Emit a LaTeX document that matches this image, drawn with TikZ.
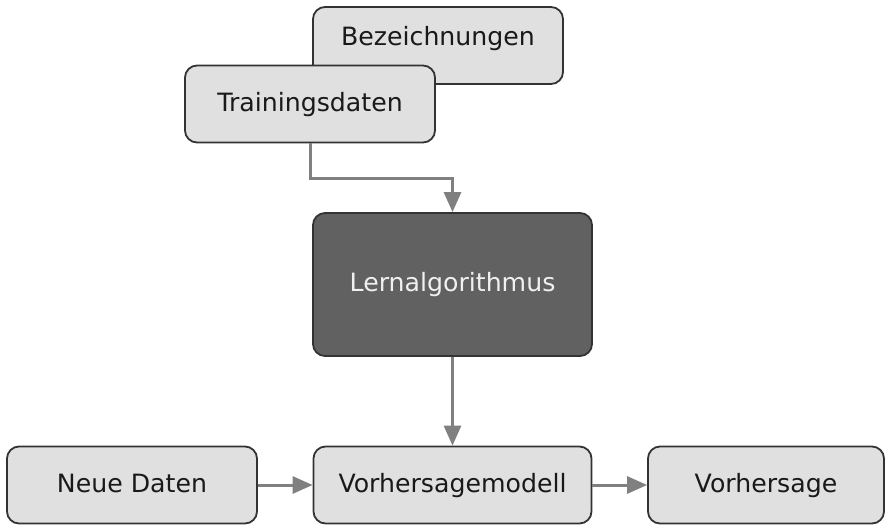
\documentclass[tikz,border=0pt]{standalone}
\usepackage{fontspec}
\setmainfont{DejaVu Sans}
\usetikzlibrary{arrows.meta}

\begin{document}
\begin{tikzpicture}[
      x=1pt, y=1pt,
      font=\fontsize{12.6}{15}\selectfont,
      box/.style={draw=black!80, line width=0.9pt, rounded corners=6pt,
        fill=black!12, text=black!90, minimum height=38.5pt,
        text height=9.5pt, text depth=2.5pt},
      darkbox/.style={box, fill=black!62, text=black!6},
      arr/.style={draw=black!50, line width=1.5pt,
        -{Triangle[width=8.5pt,length=10pt]}}
    ]
    \useasboundingbox (0,0) rectangle (445,-262.5);
    \node (bez) [box, minimum width=125pt] at (219,-22.75) {\raisebox{3.5pt}{Bezeichnungen}};
    \node (train) [box, minimum width=125pt] at (155,-52) {Trainingsdaten};
    \node (lern) [darkbox, minimum width=139.5pt, minimum height=71.5pt] at (226.25,-142.25) {Lernalgorithmus};
    \node (neu) [box, minimum width=125pt] at (66,-242.5) {Neue Daten};
    \node (modell) [box, minimum width=139pt] at (226.25,-242.5) {Vorhersagemodell};
    \node (vorh) [box, minimum width=118pt] at (383,-242.5) {Vorhersage};
    \draw[arr] (train.south) -- ++(0,-17.5) -| (lern.north);
    \draw[arr] (lern) -- (modell);
    \draw[arr] (neu) -- (modell);
    \draw[arr] (modell) -- (vorh);
  \end{tikzpicture}
\end{document}
